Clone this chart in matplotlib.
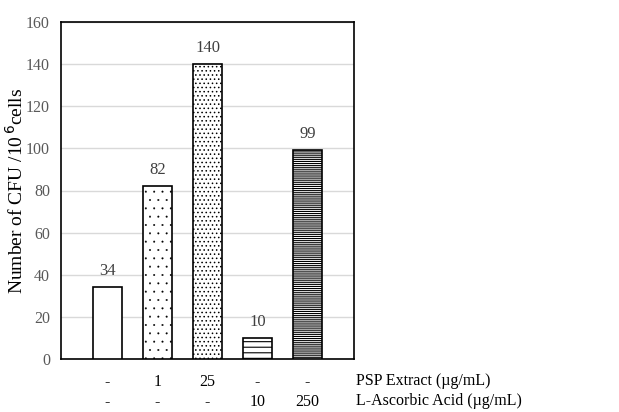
import matplotlib.pyplot as plt

plt.rcParams['font.family'] = ['Liberation Serif', 'DejaVu Serif']
plt.rcParams['hatch.linewidth'] = 0.8

# data
values = [34, 82, 140, 10, 99]
psp_row = ['-', '1', '25', '-', '-']
aa_row = ['-', '-', '-', '10', '250']
hatches = ['', '..', '....', '---', '--------']
hatch_lw = [0.8, 0.2, 0.6, 0.8, 0.8]
row_names = ['PSP Extract (\u00b5g/mL)', 'L-Ascorbic Acid (\u00b5g/mL)']

fig = plt.figure(figsize=(6.19, 4.12), dpi=100)
ax = fig.add_axes([61/619, 1 - 359/412, 293/619, 337/412])

x = list(range(len(values)))
bars = ax.bar(x, values, width=0.57, color='white', edgecolor='black',
              linewidth=1.2, zorder=3)
for b, h, lw in zip(bars, hatches, hatch_lw):
    b.set_hatch(h)
    if hasattr(b, 'set_hatch_linewidth'):
        b.set_hatch_linewidth(lw)

for xi, v in zip(x, values):
    ax.annotate(str(v), (xi, v), xytext=(0, 6), textcoords='offset points',
                ha='center', va='bottom', fontsize=12, color='#404040')

ax.set_xlim(-0.93, 4.93)
ax.set_ylim(0, 160)
ax.set_yticks(range(0, 161, 20))
ax.set_xticks([])
ax.tick_params(axis='y', length=0, labelsize=11.5, labelcolor='#595959', pad=8)
ax.grid(axis='y', color='#d9d9d9', linewidth=1, zorder=0)
for s in ax.spines.values():
    s.set_linewidth(1.2)
ax.set_ylabel('Number of CFU /10$^{\\,6}$cells', fontsize=14, labelpad=-1)

# table rows under the axis
tr = ax.get_xaxis_transform()
for xi, a, b in zip(x, psp_row, aa_row):
    ax.text(xi, -23/337, a, ha='center', va='center', fontsize=11.5,
            transform=tr, clip_on=False)
    ax.text(xi, -43/337, b, ha='center', va='center', fontsize=11.5,
            transform=tr, clip_on=False)
fig.text(356/619, 1 - 381/412, row_names[0], ha='left', va='center', fontsize=11.5)
fig.text(356/619, 1 - 401/412, row_names[1], ha='left', va='center', fontsize=11.5)

fig.savefig('out.png', dpi=100)
